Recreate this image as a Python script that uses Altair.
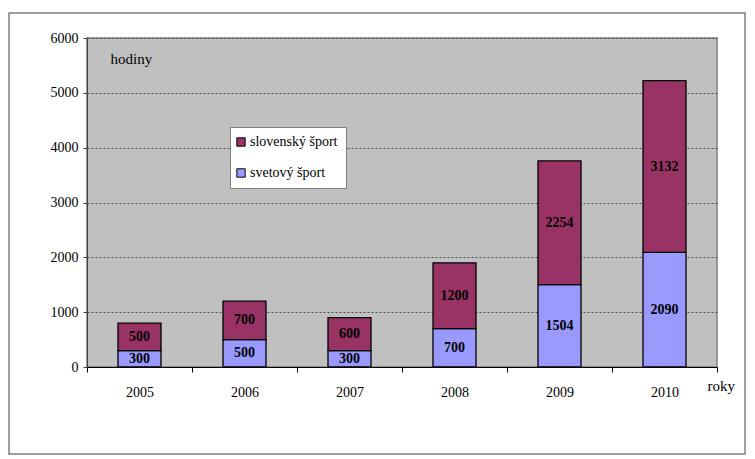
import altair as alt
import pandas as pd

years = ["2005", "2006", "2007", "2008", "2009", "2010"]
svetovy = [300, 500, 300, 700, 1504, 2090]
slovensky = [500, 700, 600, 1200, 2254, 3132]
series_names = ["slovenský šport", "svetový šport"]
series_colors = ["#993366", "#9999FF"]
y_ticks = [0, 1000, 2000, 3000, 4000, 5000, 6000]

rows = []
for i, yr in enumerate(years):
    b = svetovy[i]
    t = slovensky[i]
    rows.append({"rok": yr, "seria": series_names[1], "hodnota": b, "start": 0, "end": b, "mid": b / 2, "ord": 0})
    rows.append({"rok": yr, "seria": series_names[0], "hodnota": t, "start": b, "end": b + t, "mid": b + t / 2, "ord": 1})
df = pd.DataFrame(rows)

W, H = 630, 329
FONT = "Liberation Serif"

xenc = alt.X("rok:N", sort=years,
             scale=alt.Scale(paddingInner=0, paddingOuter=0),
             axis=alt.Axis(title="roky", titleX=620, titleY=23, titleAlign="left",
                           titleBaseline="alphabetic", titleFontWeight="normal",
                           titleFont=FONT, titleFontSize=15, titleColor="black",
                           labelAngle=0, labelFont=FONT, labelFontSize=14, labelColor="black",
                           labelPadding=13, tickBand="extent", tickSize=5, tickColor="black",
                           domainColor="black", grid=False))

base = alt.Chart(df)

bars = base.mark_bar(width=43, stroke="black", strokeWidth=1.3).encode(
    x=xenc,
    y=alt.Y("start:Q", scale=alt.Scale(domain=[0, 6000], nice=False),
            axis=alt.Axis(title="hodiny", titleX=23, titleY=25, titleAngle=0, titleAlign="left",
                          titleBaseline="alphabetic", titleFontWeight="normal",
                          titleFont=FONT, titleFontSize=15, titleColor="black",
                          values=y_ticks, format="d", labelFont=FONT, labelFontSize=14,
                          labelColor="black", labelPadding=5, tickSize=4, tickColor="#404040",
                          domainColor="#404040", grid=True, gridColor="#505050",
                          gridDash=[2, 2], gridWidth=1)),
    y2="end:Q",
    color=alt.Color("seria:N", scale=alt.Scale(domain=series_names, range=series_colors),
                    legend=alt.Legend(title=None, orient="none", legendX=143, legendY=89,
                                      fillColor="white", strokeColor="#808080", padding=8,
                                      rowPadding=17, symbolType="square", symbolSize=70,
                                      symbolStrokeColor="black", symbolStrokeWidth=1,
                                      symbolOffset=-4, labelOffset=2,
                                      labelFont=FONT, labelFontSize=14, labelColor="black")),
    order="ord:Q",
)

labels = base.mark_text(font=FONT, fontSize=14, fontWeight="bold", color="black",
                        baseline="middle").encode(
    x=alt.X("rok:N", sort=years),
    y=alt.Y("mid:Q"),
    text=alt.Text("hodnota:Q", format="d"),
)

frame = alt.Chart(pd.DataFrame({"a": [0]})).mark_rect(fill=None, stroke="#808080", strokeWidth=1.5).encode(
    x=alt.value(-78), x2=alt.value(658), y=alt.value(-25), y2=alt.value(416)
)

chart = alt.layer(bars, labels, frame).properties(
    width=W, height=H,
    autosize=alt.AutoSizeParams(type="none"),
    padding={"left": 87, "top": 38, "right": 38, "bottom": 92},
    background="white",
).configure_view(fill="#C0C0C0", stroke="#808080", strokeWidth=1.5)

chart.save("out.html", embed_options={"renderer": "svg", "actions": False})
